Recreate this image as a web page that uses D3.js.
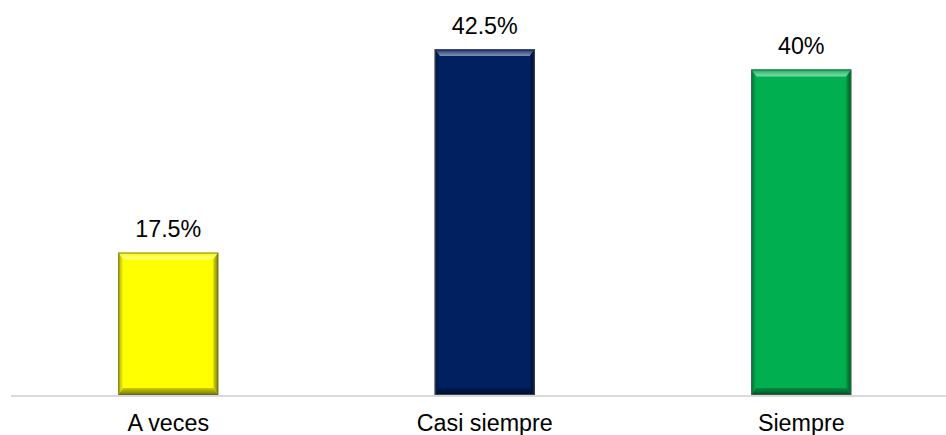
<!DOCTYPE html>
<html>
<head>
<meta charset="utf-8">
<script src="https://cdn.jsdelivr.net/npm/d3@7"></script>
<style>
  html, body { margin: 0; padding: 0; background: #fff; }
  svg { display: block; font-family: Arial, "Liberation Sans", sans-serif; }
</style>
</head>
<body>
<svg id="chart" width="946" height="435"></svg>
<script>
// Survey answer shares (%)
const categories = ["A veces", "Casi siempre", "Siempre"];
const values = [17.5, 42.5, 40];
const valueLabels = ["17.5%", "42.5%", "40%"];
const faceColors = ["#FFFF00", "#002060", "#00B050"];

const W = 946, H = 435;
const baseY = 395;
const fontSize = 23.3;

const svg = d3.select("#chart");

const x = d3.scaleBand()
  .domain(categories)
  .range([10, 959.5])
  .paddingInner(0.684)
  .paddingOuter(0.342);

const y = d3.scaleLinear()
  .domain([0, 45])
  .range([baseY, baseY - 45 * 8.14]);

const defs = svg.append("defs");

// Per-colour bevel gradients
function makeGrad(id, x1, y1, x2, y2, stops) {
  const g = defs.append("linearGradient").attr("id", id)
    .attr("x1", x1).attr("y1", y1).attr("x2", x2).attr("y2", y2);
  stops.forEach(([o, c]) => g.append("stop").attr("offset", o).attr("stop-color", c));
}

faceColors.forEach((c, i) => {
  const base = d3.color(c);
  const light = d3.interpolateRgb(c, "#ffffff");
  const dark = d3.interpolateRgb(c, "#000000");
  makeGrad("top" + i, 0, 0, 0, 1, [[0, dark(0.05)], [0.5, light(0.3)], [1, light(0.5)]]);
  makeGrad("left" + i, 0, 0, 1, 0, [[0, dark(0.35)], [1, base.formatHex()]]);
  makeGrad("right" + i, 0, 0, 1, 0, [[0, dark(0.15)], [1, dark(0.5)]]);
  makeGrad("bottom" + i, 0, 0, 0, 1, [[0, dark(0.2)], [1, dark(0.55)]]);
});

const bars = svg.append("g")
  .selectAll("g")
  .data(categories.map((c, i) => ({ c, v: values[i], i })))
  .join("g");

const bt = 7, bs = 5, bb = 7; // bevel widths: top, sides, bottom

bars.each(function(d) {
  const g = d3.select(this);
  const x0 = x(d.c), x1 = x0 + x.bandwidth();
  const y0 = y(d.v), y1 = y(0);
  const pts = a => a.map(p => p.join(",")).join(" ");
  // face
  g.append("rect").attr("x", x0).attr("y", y0)
    .attr("width", x1 - x0).attr("height", y1 - y0)
    .attr("fill", faceColors[d.i]);
  // top bevel
  g.append("polygon").attr("points", pts([[x0, y0], [x1, y0], [x1 - bs, y0 + bt], [x0 + bs, y0 + bt]]))
    .attr("fill", `url(#top${d.i})`);
  // left bevel
  g.append("polygon").attr("points", pts([[x0, y0], [x0 + bs, y0 + bt], [x0 + bs, y1 - bb], [x0, y1]]))
    .attr("fill", `url(#left${d.i})`);
  // right bevel
  g.append("polygon").attr("points", pts([[x1, y0], [x1 - bs, y0 + bt], [x1 - bs, y1 - bb], [x1, y1]]))
    .attr("fill", `url(#right${d.i})`);
  // bottom bevel
  g.append("polygon").attr("points", pts([[x0, y1], [x0 + bs, y1 - bb], [x1 - bs, y1 - bb], [x1, y1]]))
    .attr("fill", `url(#bottom${d.i})`);
  // outline
  g.append("rect").attr("x", x0 + 0.5).attr("y", y0 + 0.5)
    .attr("width", x1 - x0 - 1).attr("height", y1 - y0 - 1)
    .attr("fill", "none").attr("stroke", "#595959").attr("stroke-opacity", 0.7).attr("stroke-width", 1);
});

// category axis
svg.append("line")
  .attr("x1", 11).attr("x2", W)
  .attr("y1", baseY + 1).attr("y2", baseY + 1)
  .attr("stroke", "#d9d9d9").attr("stroke-width", 2);

svg.append("g")
  .selectAll("text")
  .data(categories)
  .join("text")
  .attr("x", d => x(d) + x.bandwidth() / 2)
  .attr("y", baseY + 36)
  .attr("text-anchor", "middle")
  .attr("font-size", fontSize)
  .attr("fill", "#000")
  .text(d => d);

// value labels
bars.append("text")
  .attr("x", d => x(d.c) + x.bandwidth() / 2)
  .attr("y", d => y(d.v) - 15.5)
  .attr("text-anchor", "middle")
  .attr("font-size", fontSize)
  .attr("fill", "#000")
  .text(d => valueLabels[d.i]);
</script>
</body>
</html>
